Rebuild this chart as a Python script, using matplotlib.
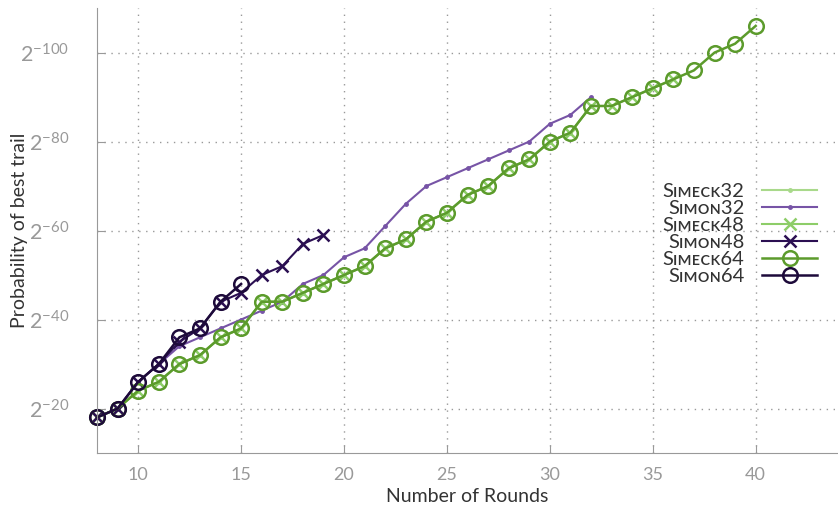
import matplotlib.pyplot as plt

plt.rcParams['font.family'] = ['Lato', 'DejaVu Sans']
plt.rcParams['mathtext.default'] = 'regular'

# -log2(probability of best trail) per number of rounds
simon32_rounds = list(range(8, 33))
simon32 = [18, 20, 26, 30, 34, 36, 38, 40, 42, 44, 48, 50, 54, 56, 61, 66,
           70, 72, 74, 76, 78, 80, 84, 86, 90]

simeck64_rounds = list(range(8, 41))
simeck64 = [18, 20, 24, 26, 30, 32, 36, 38, 44, 44, 46, 48, 50, 52, 56, 58,
            62, 64, 68, 70, 74, 76, 80, 82, 88, 88, 90, 92, 94, 96, 100, 102, 106]

simeck32_rounds = list(range(8, 33))
simeck32 = simeck64[:len(simeck32_rounds)]

simeck48_rounds = list(range(8, 37))
simeck48 = simeck64[:len(simeck48_rounds)]

simon48_rounds = list(range(8, 20))
simon48 = [18, 20, 26, 30, 35, 38, 44, 46, 50, 52, 57, 59]

simon64_rounds = list(range(8, 16))
simon64 = [18, 20, 26, 30, 36, 38, 44, 48]

labels = ["Sɪᴍᴇᴄᴋ32", "Sɪᴍᴏɴ32", "Sɪᴍᴇᴄᴋ48", "Sɪᴍᴏɴ48", "Sɪᴍᴇᴄᴋ64", "Sɪᴍᴏɴ64"]

fig = plt.figure(figsize=(8.38, 5.07), dpi=100)
ax = fig.add_axes([0.1158, 0.1065, 0.8842, 0.8775])

ax.plot(simeck32_rounds, simeck32, color="#a9d98b", lw=1.5, marker="o", ms=2.5,
        label=labels[0], clip_on=False)
ax.plot(simon32_rounds, simon32, color="#7754a6", lw=1.5, marker="o", ms=2.5,
        label=labels[1], clip_on=False)
ax.plot(simeck48_rounds, simeck48, color="#8dcd68", lw=1.5, marker="x", ms=8, mew=1.8,
        label=labels[2], clip_on=False)
ax.plot(simon48_rounds, simon48, color="#2b0f52", lw=1.5, marker="x", ms=8, mew=1.8,
        label=labels[3], clip_on=False)
ax.plot(simeck64_rounds, simeck64, color="#5c9b2c", lw=1.8, marker="o", ms=10.5, mew=1.8,
        mfc="none", label=labels[4], clip_on=False)
ax.plot(simon64_rounds, simon64, color="#1d0a3a", lw=1.8, marker="o", ms=10.5, mew=1.8,
        mfc="none", label=labels[5], clip_on=False)

ax.set_xlim(8, 44)
ax.set_ylim(10, 110)
ax.set_xticks([10, 15, 20, 25, 30, 35, 40])
yt = [20, 40, 60, 80, 100]
ax.set_yticks(yt)
ax.set_yticklabels([r"$2^{-%d}$" % v for v in yt])

ax.grid(True, linestyle=(0, (1, 4)), color="#999999", lw=1)
ax.set_axisbelow(True)
for s in ["top", "right"]:
    ax.spines[s].set_visible(False)
for s in ["left", "bottom"]:
    ax.spines[s].set_color("#999999")
ax.tick_params(direction="in", length=6, color="#999999", labelcolor="#999999",
               labelsize=13, pad=10)
ax.tick_params(axis="y", labelsize=15.5, pad=20)

ax.set_xlabel("Number of Rounds", fontsize=14, color="#333333", labelpad=4)
ax.set_ylabel("Probability of best trail", fontsize=14, color="#333333", labelpad=-6)

leg = ax.legend(loc="upper right", bbox_to_anchor=(0.985, 0.63), frameon=False,
                markerfirst=False, fontsize=14.5, handlelength=2.7, labelspacing=0.0,
                handletextpad=0.9, borderpad=0)
for t in leg.get_texts():
    t.set_color("#333333")
    t.set_ha("right")

fig.savefig("out.png", dpi=100)
